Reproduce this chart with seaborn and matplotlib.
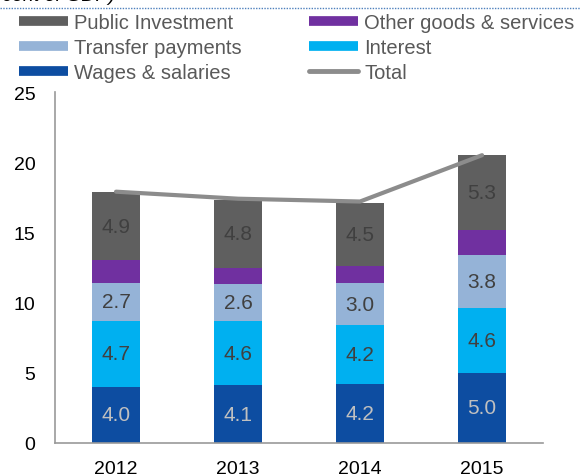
import numpy as np
import pandas as pd
import seaborn as sns
import matplotlib.pyplot as plt
import matplotlib.lines as mlines

years = ["2012", "2013", "2014", "2015"]
wages = [4.0, 4.1, 4.2, 5.0]
interest = [4.7, 4.6, 4.2, 4.6]
transfers = [2.7, 2.6, 3.0, 3.8]
other_goods = [1.6, 1.2, 1.2, 1.8]
public_inv = [4.9, 4.8, 4.5, 5.3]
total = [17.9, 17.4, 17.2, 20.5]

series_names = ["Wages & salaries", "Interest", "Transfer payments",
                "Other goods & services", "Public Investment"]
series_vals = [wages, interest, transfers, other_goods, public_inv]
series_colors = ["#0d4da1", "#00b0f0", "#95b3d7", "#7030a0", "#5f5f5f"]
label_colors = ["#c0c0c0", "#404040", "#404040", None, "#404040"]

sns.set_style("white")
plt.rcParams["font.family"] = ["Liberation Sans", "DejaVu Sans"]

fig = plt.figure(figsize=(5.81, 4.77), dpi=100)
ax = fig.add_axes([0.0947, 0.0692, 0.84, 0.7358])

df = pd.DataFrame({"year": years})
cum = np.zeros(len(years))
cums = []
for vals in series_vals:
    cum = cum + np.array(vals)
    cums.append(cum.copy())

# draw tallest first so lower segments sit on top
for name, c, color in reversed(list(zip(series_names, cums, series_colors))):
    df["h"] = c
    sns.barplot(data=df, x="year", y="h", color=color, width=0.39,
                order=years, ax=ax, saturation=1, edgecolor="none", linewidth=0)

# segment labels
bottom = np.zeros(len(years))
for vals, lc in zip(series_vals, label_colors):
    for i, v in enumerate(vals):
        if lc is not None:
            ax.text(i, bottom[i] + v / 2, f"{v:.1f}", ha="center", va="center",
                    fontsize=15, color=lc)
    bottom = bottom + np.array(vals)

sns.lineplot(x=np.arange(len(years)), y=total, color="#8c8c8c", linewidth=3,
             ax=ax, solid_capstyle="round")

ax.set_xlim(-0.5, 3.5)
ax.set_ylim(0, 25)
ax.set_yticks([0, 5, 10, 15, 20, 25])
ax.set_xlabel("")
ax.set_ylabel("")
ax.set_xticks(range(len(years)))
ax.set_xticklabels(years)
ax.set_xticks([0.5, 1.5, 2.5, 3.5], minor=True)
ax.tick_params(axis="x", which="major", length=0, labelsize=14, pad=12, colors="black")
ax.tick_params(axis="x", which="minor", length=4, width=1, direction="in", colors="#999999")
ax.tick_params(axis="y", which="major", length=4, width=1, direction="in",
               labelsize=14, pad=14, colors="#999999", labelcolor="black")
for s in ["top", "right"]:
    ax.spines[s].set_visible(False)
for s in ["left", "bottom"]:
    ax.spines[s].set_color("#999999")
    ax.spines[s].set_linewidth(1.2)

# legend
handles = [
    mlines.Line2D([], [], color="#5f5f5f", lw=7, solid_capstyle="butt", label="Public Investment"),
    mlines.Line2D([], [], color="#95b3d7", lw=7, solid_capstyle="butt", label="Transfer payments"),
    mlines.Line2D([], [], color="#0d4da1", lw=7, solid_capstyle="butt", label="Wages & salaries"),
    mlines.Line2D([], [], color="#7030a0", lw=7, solid_capstyle="butt", label="Other goods & services"),
    mlines.Line2D([], [], color="#00b0f0", lw=7, solid_capstyle="butt", label="Interest"),
    mlines.Line2D([], [], color="#8c8c8c", lw=3.5, solid_capstyle="round", label="Total"),
]
leg = fig.legend(handles=handles, ncol=2, loc="upper left", bbox_to_anchor=(0.032, 0.97),
                 frameon=False, fontsize=14.5, handlelength=2.45, handletextpad=0.3,
                 columnspacing=3.35, labelspacing=0.3, borderpad=0, borderaxespad=0)
for t in leg.get_texts():
    t.set_color("#595959")

# clipped title and dotted rule at top
fig.text(115 / 581, 1 - 1 / 477, "(In percent of GDP)", ha="right", va="baseline",
         fontsize=14, style="italic", color="black")
fig.add_artist(mlines.Line2D([0, 1], [1 - 9 / 477, 1 - 9 / 477], transform=fig.transFigure,
                             color="#4f81bd", lw=1, ls=(0, (1, 1))))

fig.savefig("out.png", dpi=100)
